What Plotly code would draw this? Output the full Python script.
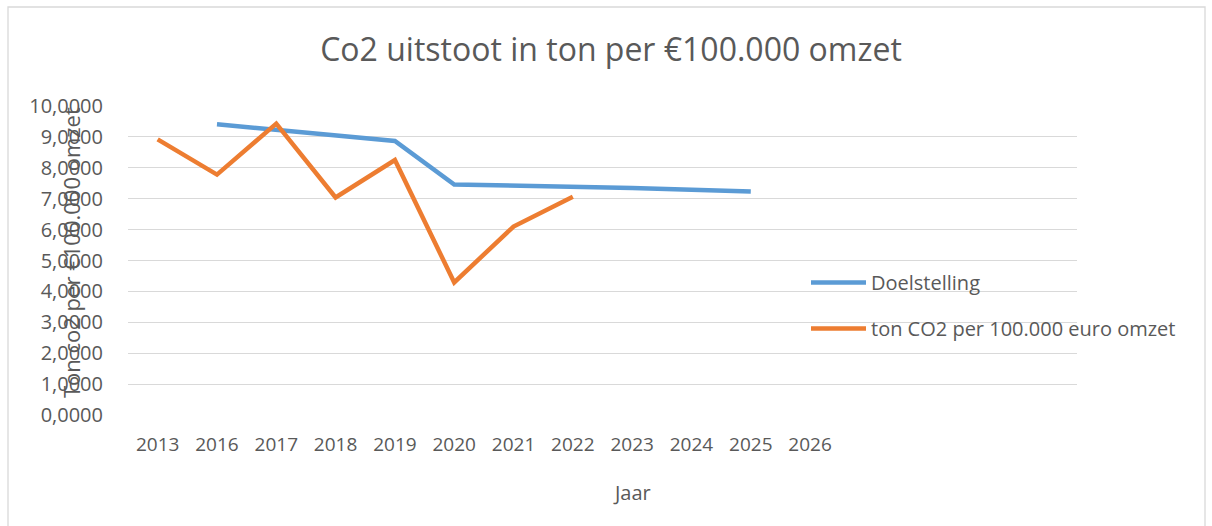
import plotly.graph_objects as go

years = ["2013", "2016", "2017", "2018", "2019", "2020", "2021", "2022",
         "2023", "2024", "2025", "2026"]
n_slots = 16  # category slots on the axis (last ones unlabeled)

doel_years = ["2016", "2017", "2018", "2019", "2020", "2021", "2022",
              "2023", "2024", "2025"]
doel_values = [9.41, 9.23, 9.05, 8.87, 7.46, 7.43, 7.40, 7.35, 7.29, 7.23]

co2_years = ["2013", "2016", "2017", "2018", "2019", "2020", "2021", "2022"]
co2_values = [8.92, 7.78, 9.43, 7.04, 8.25, 4.29, 6.10, 7.06]

y_ticks = [0, 1, 2, 3, 4, 5, 6, 7, 8, 9, 10]

FONT = "'Open Sans', 'Noto Sans', sans-serif"
TXT = "#595959"
W, H = 1212, 526
L, R, T, B = 128, 135, 106, 111
pw, ph = W - L - R, H - T - B

def px_x(x):
    return (x - L) / pw

def px_y(y):
    return (H - B - y) / ph

pos = {y: i for i, y in enumerate(years)}

fig = go.Figure()
fig.add_trace(go.Scatter(
    x=[pos[y] for y in doel_years], y=doel_values, mode="lines",
    name="Doelstelling", legendgroup="a",
    line=dict(color="#5B9BD5", width=4.5),
))
fig.add_trace(go.Scatter(
    x=[pos[y] for y in co2_years], y=co2_values, mode="lines",
    name="ton CO2 per 100.000 euro omzet", legendgroup="b",
    line=dict(color="#ED7D31", width=4.5),
))

fig.update_layout(
    width=W, height=H,
    margin=dict(l=L, r=R, t=T, b=B),
    paper_bgcolor="white", plot_bgcolor="white",
    separators=",.",
    font=dict(family=FONT, size=20, color=TXT),
    title=dict(text="Co2 uitstoot in ton per €100.000 omzet",
               x=px_x(611), xref="paper", xanchor="center",
               y=1 - 50 / H, yanchor="middle",
               font=dict(family=FONT, size=32, color=TXT)),
    showlegend=True,
    legend=dict(x=px_x(806), y=px_y(263), xanchor="left", yanchor="top",
                traceorder="grouped", tracegroupgap=17, itemwidth=55,
                bgcolor="rgba(0,0,0,0)",
                font=dict(family=FONT, size=20, color=TXT)),
    xaxis=dict(range=[-0.5, n_slots - 0.5],
               tickmode="array", tickvals=list(range(len(years))),
               ticktext=years, showgrid=False, zeroline=False,
               showline=False, ticks="", ticklabelstandoff=16,
               tickfont=dict(family=FONT, size=19, color=TXT)),
    yaxis=dict(range=[0, 10], tickvals=y_ticks, tickformat=".4f",
               showgrid=True, gridcolor="#D9D9D9", gridwidth=1.2,
               zeroline=False, showline=False, ticks="",
               ticklabelstandoff=24,
               tickfont=dict(family=FONT, size=20, color=TXT)),
)

fig.add_annotation(text="Jaar", xref="paper", yref="paper",
                   x=px_x(632), y=px_y(493), showarrow=False,
                   xanchor="center", yanchor="middle",
                   font=dict(family=FONT, size=20, color=TXT))
fig.add_annotation(text="Ton co2 per €100.000 omzet", xref="paper", yref="paper",
                   x=px_x(71), y=px_y(253), showarrow=False, textangle=-90,
                   xanchor="center", yanchor="middle",
                   font=dict(family=FONT, size=22, color=TXT))

fig.add_shape(type="rect", xref="paper", yref="paper",
              x0=px_x(8), x1=px_x(1205), y0=px_y(540), y1=px_y(7),
              line=dict(color="#D9D9D9", width=1.3), fillcolor="rgba(0,0,0,0)",
              layer="below")

fig.write_html("out.html", config={"displayModeBar": False},
               post_script="document.body.style.margin='0px';document.body.style.overflow='hidden';")
